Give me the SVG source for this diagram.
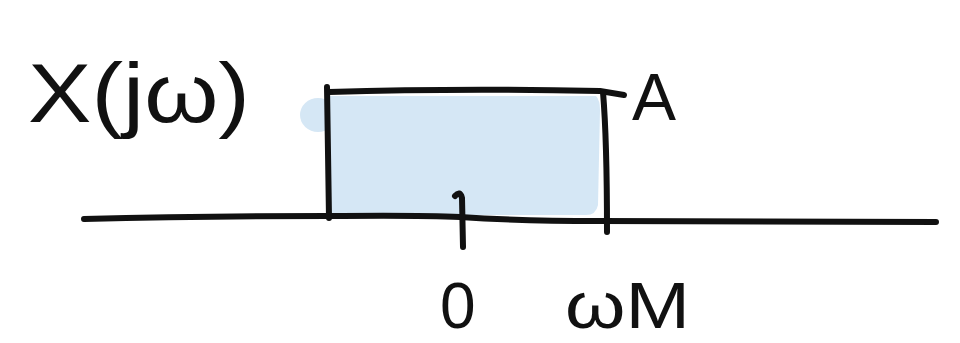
<svg xmlns="http://www.w3.org/2000/svg" width="960" height="343" viewBox="0 0 960 343">
<style>
.ink{fill:none;stroke:#111;stroke-width:6;stroke-linecap:round;stroke-linejoin:round}
.lbl{font-family:"Liberation Sans","DejaVu Sans",sans-serif;fill:#111}
.fill{fill:#d5e7f5}
</style>
<rect width="960" height="343" fill="#fff"/>
<g id="spectrum">
<ellipse class="fill" cx="318" cy="115" rx="18" ry="17"/>
<path class="fill" d="M327,96 L596,96 Q600,100 600,110 L598,205 Q596,215 586,215 L327,215 Z"/>
</g>
<g id="connectors">
<path class="ink" d="M84,219 Q200,216 327,216 Q420,215 460,217 Q520,221 600,221 L936,222"/>
<path class="ink" d="M327,87 L329,218"/>
<path class="ink" d="M329,92 Q460,88 600,91 L624,95"/>
<path class="ink" d="M603,92 Q607,140 607,232"/>
<path class="ink" d="M455,196 Q460,190 462,198 L463,247"/>
</g>
<g id="label-x">
<text class="lbl" x="28" y="122" font-size="84" textLength="222" lengthAdjust="spacingAndGlyphs">X(jω)</text>
</g>
<g id="label-a">
<text class="lbl" x="632" y="120" font-size="66">A</text>
</g>
<g id="label-0">
<text class="lbl" x="440" y="328" font-size="64">0</text>
</g>
<g id="label-wm">
<text class="lbl" x="565" y="328" font-size="64" textLength="125" lengthAdjust="spacingAndGlyphs">ωM</text>
</g>
</svg>
